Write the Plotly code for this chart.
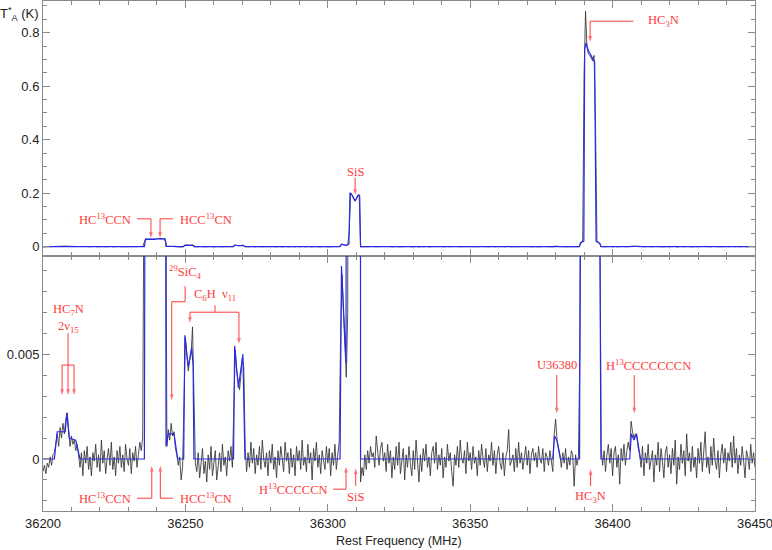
import numpy as np
import plotly.graph_objects as go
from plotly.subplots import make_subplots

# channel grid of the observed spectrum (MHz)
freq_start = 36200.0
freq_step = 0.5

# observed antenna temperature in units of 0.1 mK, one row per 10 MHz
obs_tenth_mk = [
    -6, -3, -7, -2, -4, 1, -3, 2, 3, 8, 12, 6, 15, 10, 17, 12, 19, 22, 14, 6,
    11, 7, 9, 4, 7, 2, -4, 3, -8, 4, -2, 6, -5, 1, -8, 3, -1, 7, -4, 2,
    -6, 9, -2, 4, -7, 0, 5, -3, 8, -5, 1, -8, 4, -2, 6, -4, 2, -6, 7, 0,
    -3, 5, -7, 3, -1, 6, -4, 2, 8, 4, 10, 150, 280, 285, 270, 290, 275, 280, 300, 270,
    310, 295, 300, 290, 305, 285, 200, 6, 14, 9, 17, 11, 13, 5, 2, -3, 1, -10, -4, 30,
    58, 50, 42, 47, 50, 63, 20, -2, -6, 3, -9, -3, 5, -7, -1, -11, 2, -5, 6, -8,
    -2, 4, -10, -4, 3, -6, 7, -3, 1, -8, 4, -1, 6, -4, 30, 52, 42, 36, 33, 40,
    48, 44, 5, -6, 3, -4, 8, -2, 5, -7, 2, -3, 6, -5, 9, 0, -4, 3, -8, 4,
    -2, 7, -5, 1, -9, 4, -3, 6, 0, -6, 8, -1, 3, -7, 5, -4, 2, -8, 6, -1,
    4, -5, 9, -3, 1, -6, 7, -2, 3, -10, 5, -1, 8, -4, 2, -7, 4, 0, -5, 6,
    -2, 5, -8, 3, -3, 7, -5, 2, 8, 60, 88, 70, 50, 39, 70, 500, 2000, 1950, 1800, 1700,
    1780, 1920, 1950, -11, -4, -8, 2, -5, 4, -2, 6, 1, 3, -4, 11, 2, -3, 5, 8, -1,
    3, -6, 7, -2, 4, -9, 1, -5, 6, -3, 8, -7, -1, 5, -10, 2, -4, 6, -2, -8,
    4, -5, 9, -3, -11, 2, -6, 5, -1, 7, -4, 1, -8, 3, 6, -2, 8, -5, 2, -3,
    5, -9, 1, -4, 7, -1, 3, -6, -13, 2, -3, 6, -4, 9, 0, -2, 4, -7, 8, -1,
    3, -5, 6, -2, 1, -8, 4, -3, 7, 0, -4, 5, -6, 2, -1, 8, -3, 4, -7, 2,
    6, -2, -5, 3, -8, 1, 4, 14, -3, -1, 2, -6, 5, -4, 8, -2, 3, -5, 1, 6,
    -3, 4, -7, 2, 5, -1, 3, -4, 6, 0, -2, 5, -6, 3, 1, -3, 4, -1, -6, 12,
    19, 9, 6, 2, -4, 3, -2, 5, -5, 1, -3, 4, 2, -13, 2, -3, 1, 50, 150, 250,
    6500, 8800, 7450, 7200, 7150, 7050, 6950, 7150, 4500, 220, 180, 120, 5, -3, 4, -6, 2, 7, -2, 5,
    -8, 3, 6, -4, 2, -12, 5, -1, 7, -3, 4, 8, 4, 18, 13, 10, 12, 11, 5, 2,
    -4, 6, -8, 3, -2, 7, -5, 1, 4, -11, 2, -3, 8, -6, 5, -1, -9, 3, 6, -4,
    2, -7, 5, -3, 9, -12, 1, -5, 7, -2, 4, -8, 12, -1, 3, -6, 6, -4, 1, -9,
    5, -2, 8, -6, 3, 13, -4, 1, -7, 6, -3, 10, -1, -5, 4, -9, 2, 7, -2, 5,
    -6, 3, -1, 8, -4, 11, -2, 5, -7, 2, -3, 6, -1, -9, 4, 1, -5, 7, -2, 3,
    -4,
]

# fitted model, breakpoints (MHz, K)
model_freq = [36200, 36204.0, 36205.0, 36207.8, 36208.4, 36209.2, 36211.5, 36213.0,
              36235.6, 36236.0, 36239.6, 36240.0, 36242.9, 36243.2, 36244.0, 36246.0, 36247.3,
              36249.4, 36249.8, 36251.0, 36252.2, 36252.7, 36253.0,
              36266.9, 36267.3, 36268.6, 36270.2, 36270.9,
              36304.3, 36304.8, 36306.4, 36307.4, 36307.8, 36308.2, 36309.6, 36310.7, 36311.2, 36311.5,
              36379.0, 36379.6, 36380.4, 36381.2, 36381.7,
              36388.4, 36388.7, 36389.9, 36390.2, 36390.7, 36391.4, 36393.7, 36394.2, 36395.5, 36395.9,
              36406.0, 36406.6, 36407.5, 36408.4, 36409.3, 36409.8,
              36450]
model_temp = [0, 0, 0.0013, 0.0013, 0.0022, 0.0010, 0.0009, 0,
              0, 0.028, 0.027, 0.030, 0.029, 0.0006, 0.0012, 0.0012, 0,
              0, 0.0059, 0.0044, 0.0053, 0.0045, 0,
              0, 0.0054, 0.0034, 0.0050, 0,
              0, 0.0092, 0.0046, 0.0095, 0.200, 0.198, 0.172, 0.192, 0.190, 0,
              0, 0.0011, 0.0009, 0.0003, 0,
              0, 0.015, 0.020, 0.74, 0.762, 0.735, 0.69, 0.02, 0.012, 0,
              0, 0.0012, 0.0009, 0.0012, 0.0003, 0,
              0]

freq_ticks = [36200, 36250, 36300, 36350, 36400, 36450]
top_ticks = [0, 0.2, 0.4, 0.6, 0.8]
top_ticktext = ["0", "0.2", "0.4", "0.6", "0.8"]
zoom_ticks = [0, 0.005]
zoom_ticktext = ["0", "0.005"]

RED = "#ff3a3a"
GRAY = "#8a8a8a"
LABEL_FONT = dict(family="Liberation Serif", size=12.5, color=RED)
TICK_FONT = dict(family="Liberation Sans", size=13, color="#222")

obs = np.array(obs_tenth_mk) * 1e-4
freq = freq_start + freq_step * np.arange(len(obs))

fig = make_subplots(rows=2, cols=1, shared_xaxes=True, vertical_spacing=0)
for row in (1, 2):
    fig.add_trace(go.Scatter(x=freq, y=obs, mode="lines", line=dict(color="#333333", width=0.85),
                             showlegend=False, hoverinfo="skip"), row=row, col=1)
    fig.add_trace(go.Scatter(x=model_freq, y=model_temp, mode="lines",
                             line=dict(color="#2a2ae6", width=1.2),
                             showlegend=False, hoverinfo="skip"), row=row, col=1)

REFS = {1: ("x", "y"), 2: ("x2", "y2")}


def label(text, x, y, row, xanchor="center"):
    xr, yr = REFS[row]
    fig.add_annotation(text=text, x=x, y=y, xref=xr, yref=yr, showarrow=False,
                       xanchor=xanchor, yanchor="middle", font=LABEL_FONT)


def arrow(x, y_tail, y_head, row):
    # vertical leader ending in an arrowhead at y_head
    fig.add_trace(go.Scatter(x=[x, x], y=[y_tail, y_head], mode="lines+markers",
                             line=dict(color=RED, width=1),
                             marker=dict(symbol="arrow", size=[0, 6], angleref="previous",
                                         color=RED, line=dict(width=0)),
                             showlegend=False, hoverinfo="skip"), row=row, col=1)


def leader(x0, y0, x1, y1, row):
    xr, yr = REFS[row]
    fig.add_shape(type="line", x0=x0, y0=y0, x1=x1, y1=y1, xref=xr, yref=yr,
                  line=dict(color=RED, width=1))


# top panel labels
label("HC<sub>3</sub>N", 36411.9, 0.843, 1, "left")
leader(36392.1, 0.843, 36407.3, 0.843, 1)
arrow(36392.1, 0.843, 0.766, 1)
label("SiS", 36309.6, 0.278, 1)
arrow(36309.6, 0.258, 0.193, 1)
label("HC<sup>13</sup>CCN", 36231.6, 0.104, 1, "right")
leader(36233.0, 0.104, 36237.9, 0.104, 1)
arrow(36237.9, 0.104, 0.032, 1)
label("HCC<sup>13</sup>CN", 36247.4, 0.104, 1, "left")
leader(36245.6, 0.104, 36241.1, 0.104, 1)
arrow(36241.1, 0.104, 0.032, 1)

# bottom panel labels
label("HC<sub>7</sub>N", 36208.8, 0.0071, 2)
label("2ν<sub>15</sub>", 36208.8, 0.0063, 2)
leader(36208.8, 0.0060, 36208.8, 0.00448, 2)
leader(36206.7, 0.00448, 36210.9, 0.00448, 2)
for xa in (36206.7, 36208.8, 36210.9):
    arrow(xa, 0.00448, 0.00305, 2)

label("<sup>29</sup>SiC<sub>4</sub>", 36249.9, 0.0089, 2)
leader(36249.9, 0.00824, 36249.9, 0.0075, 2)
leader(36249.9, 0.0075, 36245.2, 0.0075, 2)
arrow(36245.2, 0.0075, 0.0028, 2)

label("C<sub>6</sub>H  ν<sub>11</sub>", 36260.4, 0.00784, 2)
leader(36260.4, 0.00733, 36260.4, 0.0070, 2)
leader(36251.6, 0.0070, 36268.8, 0.0070, 2)
arrow(36251.6, 0.0070, 0.0065, 2)
arrow(36268.8, 0.0070, 0.0055, 2)

label("HC<sup>13</sup>CCN", 36231.6, -0.00187, 2, "right")
leader(36233.0, -0.00187, 36238.2, -0.00187, 2)
arrow(36238.2, -0.00187, -0.00033, 2)
label("HCC<sup>13</sup>CN", 36247.4, -0.00187, 2, "left")
leader(36245.6, -0.00187, 36241.2, -0.00187, 2)
arrow(36241.2, -0.00187, -0.00033, 2)

label("H<sup>13</sup>CCCCCN", 36300.8, -0.00144, 2, "right")
leader(36301.9, -0.00144, 36306.4, -0.00144, 2)
arrow(36306.4, -0.00144, -0.00037, 2)
label("SiS", 36309.8, -0.00179, 2)
arrow(36309.8, -0.00129, -0.00044, 2)

label("HC<sub>3</sub>N", 36392.3, -0.00179, 2)
arrow(36392.3, -0.00129, -0.00049, 2)

label("U36380", 36380.4, 0.0045, 2)
arrow(36380.4, 0.0040, 0.00217, 2)
label("H<sup>13</sup>CCCCCCCN", 36412.7, 0.0045, 2)
arrow(36407.6, 0.0040, 0.00217, 2)

# axis titles
fig.add_annotation(text="T<sup>*</sup><sub>A</sub> (K)", xref="paper", yref="paper", x=0, y=1,
                   xanchor="right", yanchor="top", xshift=-2, yshift=-2, showarrow=False,
                   font=TICK_FONT)
fig.add_annotation(text="Rest Frequency (MHz)", xref="paper", yref="paper", x=0.5, y=0,
                   xanchor="center", yanchor="top", yshift=-21, showarrow=False,
                   font=dict(family="Liberation Sans", size=12.5, color="#222"))

axis_style = dict(showline=True, linecolor=GRAY, linewidth=1, mirror="allticks",
                  ticks="inside", ticklen=7, tickcolor=GRAY, showgrid=False, zeroline=False,
                  tickfont=TICK_FONT, automargin=False, ticklabeloverflow="allow")
fig.update_xaxes(range=[36200, 36450], tickvals=freq_ticks,
                 ticktext=[str(t) for t in freq_ticks],
                 minor=dict(dtick=10, tick0=36200, ticklen=4, ticks="inside", tickcolor=GRAY),
                 **axis_style)
fig.update_xaxes(showticklabels=False, row=1, col=1)
fig.update_yaxes(range=[-0.035, 0.9185], tickvals=top_ticks, ticktext=top_ticktext,
                 minor=dict(dtick=0.05, tick0=0, ticklen=4, ticks="inside", tickcolor=GRAY),
                 row=1, col=1, **axis_style)
fig.update_yaxes(range=[-0.00248, 0.00968], tickvals=zoom_ticks, ticktext=zoom_ticktext,
                 minor=dict(dtick=0.001, tick0=0, ticklen=4, ticks="inside", tickcolor=GRAY),
                 row=2, col=1, **axis_style)

fig.update_layout(width=772, height=550, margin=dict(l=43, r=17, t=1, b=39),
                  plot_bgcolor="white", paper_bgcolor="white", showlegend=False)

# drop the page's default body margin so the figure sits at the window origin
fig.write_html("out.html", config={"displayModeBar": False},
               post_script="document.body.style.margin='0';")
